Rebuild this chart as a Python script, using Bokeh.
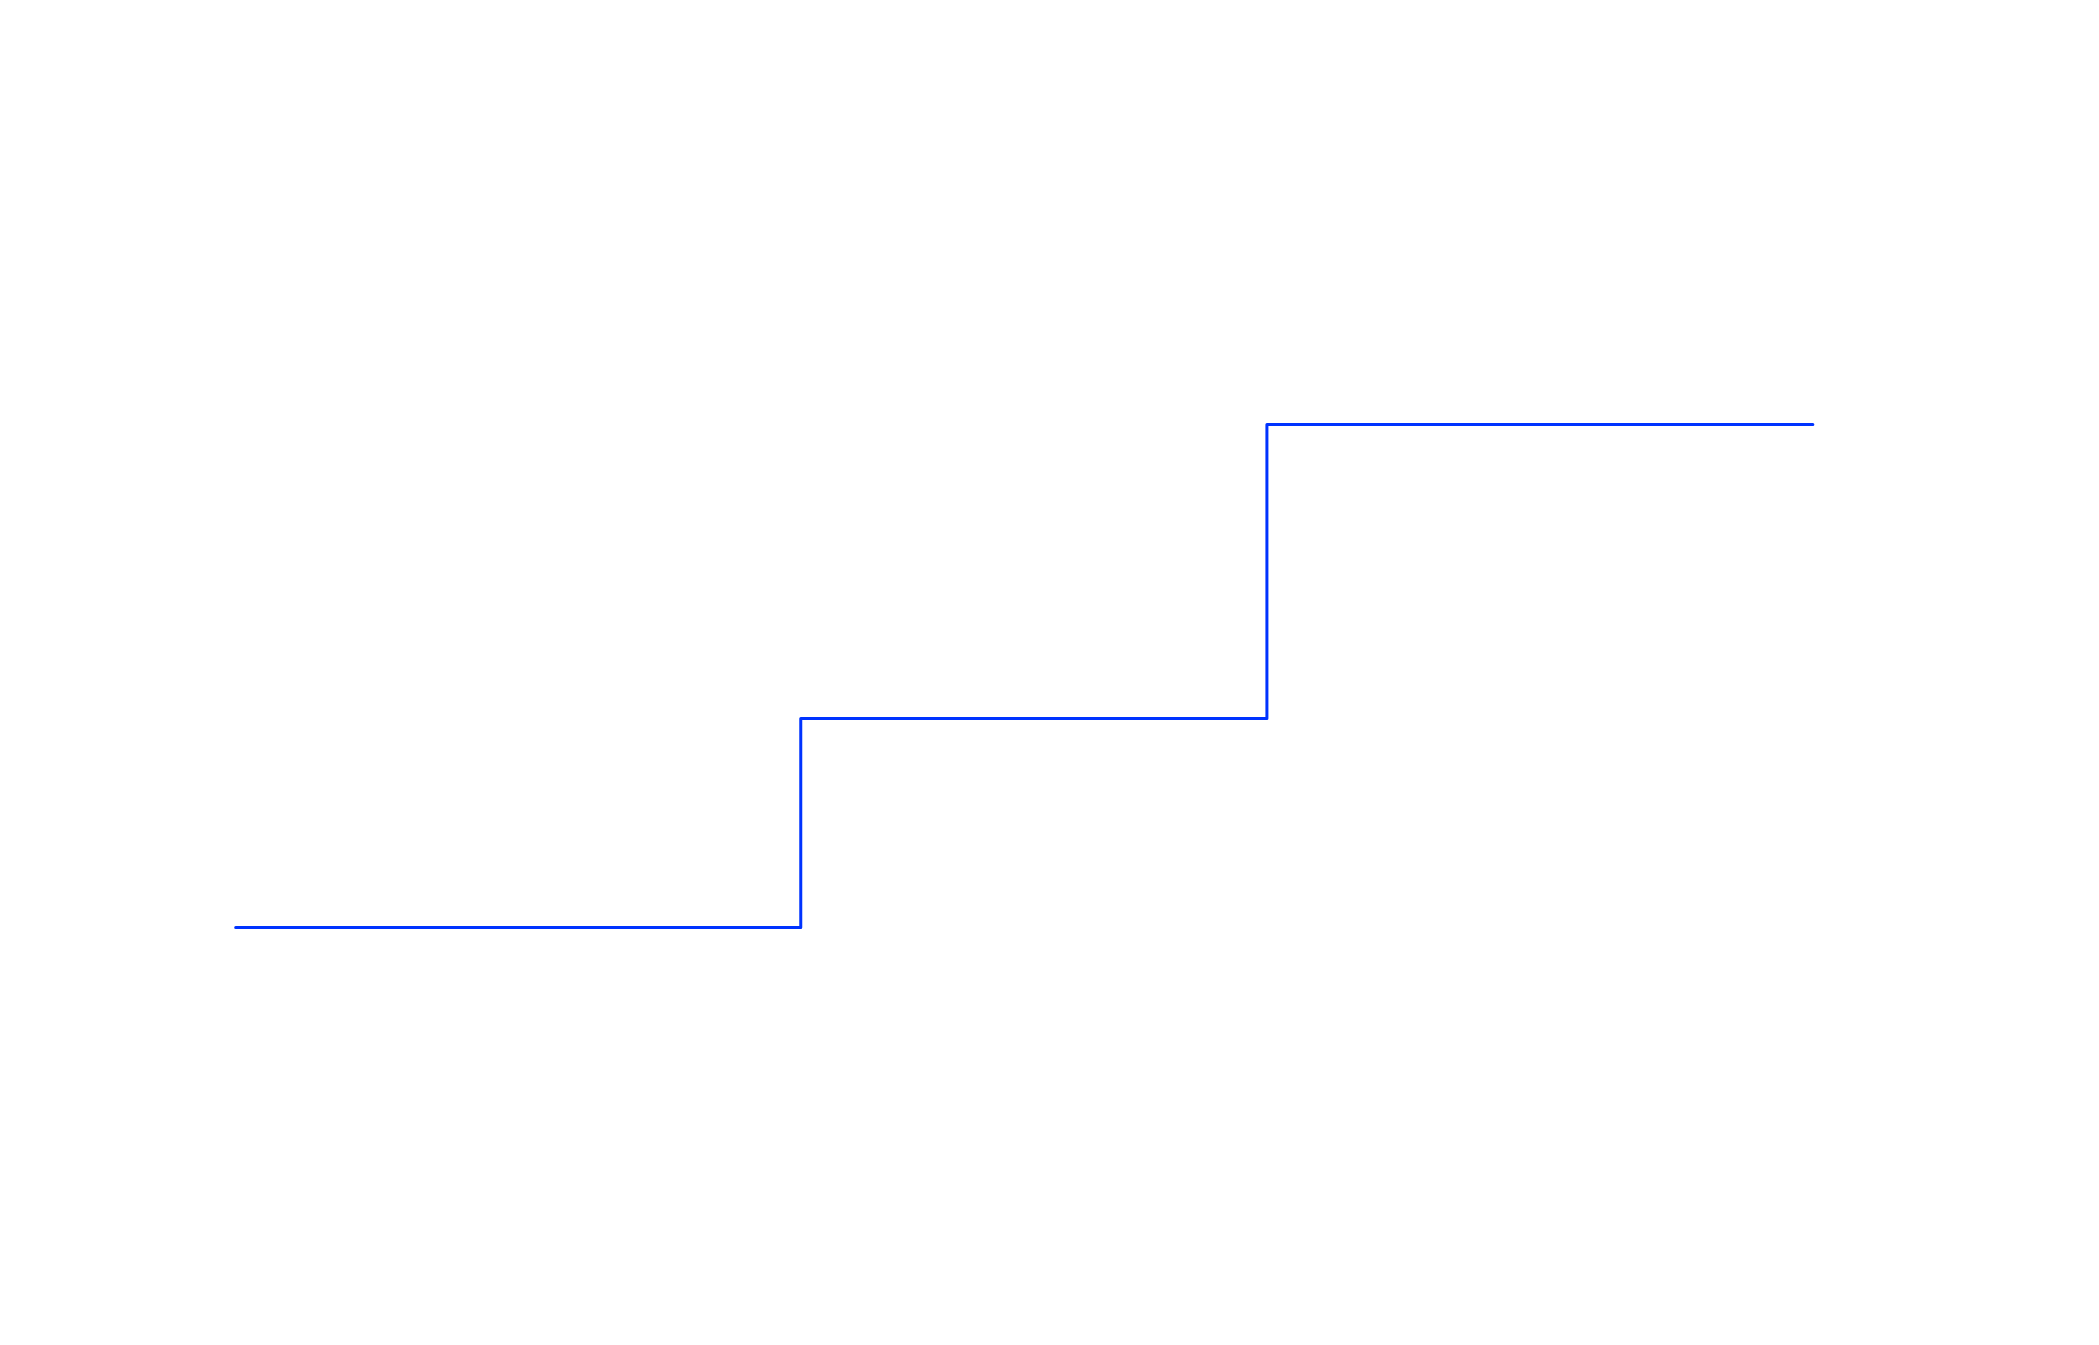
from bokeh.plotting import figure
from bokeh.embed import file_html
from bokeh.resources import INLINE
from bokeh.models import Range1d

xs = [0.0, 1.211, 2.21, 3.38]
ys = [1.0, 1.706, 2.7, 2.7]

p = figure(width=2083, height=1329, output_backend="svg", toolbar_location=None,
           x_range=Range1d(-0.504, 3.960), y_range=Range1d(-0.359, 4.133),
           min_border=0)
p.axis.visible = False
p.grid.visible = False
p.outline_line_color = None
p.step(xs, ys, mode="after", line_color="#0033ff", line_width=3,
       line_cap="round", line_join="round")

open("out.html", "w").write(file_html(p, INLINE))
